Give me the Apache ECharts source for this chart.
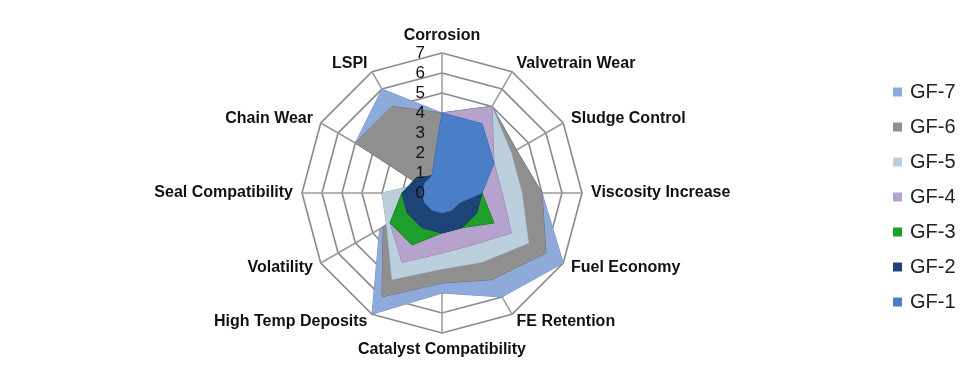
<!DOCTYPE html>
<html>
<head>
<meta charset="utf-8">
<script src="https://cdn.jsdelivr.net/npm/echarts@6/dist/echarts.min.js"></script>
<style>html,body{margin:0;padding:0;background:#fff}#c{width:975px;height:385px}</style>
</head>
<body>
<div id="c"></div>
<script>
// Categories, clockwise from the top
const categories = ['Corrosion','Valvetrain Wear','Sludge Control','Viscosity Increase','Fuel Economy','FE Retention','Catalyst Compatibility','High Temp Deposits','Volatility','Seal Compatibility','Chain Wear','LSPI'];
const seriesNames = ['GF-7','GF-6','GF-5','GF-4','GF-3','GF-2','GF-1'];
const gf7 = [4, 5, 4.3, 5, 7, 6, 5, 7, 3.6, 0.5, 5, 6];
const gf6 = [4, 5, 4.3, 5, 6, 5, 4.5, 6, 3.4, 0.5, 5, 5];
const gf5 = [4, 5, 4, 4, 5, 4, 3.8, 5, 3.2, 3, 1, 1];
const gf4 = [4, 5, 3, 3, 4, 3, 3, 4, 3, 2, 1, 1];
const gf3 = [1, 1, 1, 2, 3, 2, 2, 3, 3, 2, 1, 1];
const gf2 = [1, 1, 1, 2, 2, 2, 2, 2, 2, 2, 1.5, 1];
const gf1 = [4, 4, 3, 2, 1, 1, 1, 1, 1, 1, 1, 1];
const tickLabels = ['0','1','2','3','4','5','6','7'];
const maxVal = 7;

const colors = ['#8EAADB','#8F8F8F','#BCCFDD','#B5A3CD','#1E9E2A','#1D4477','#4A7FC8'];
const edges  = ['#6F8CC0','#6E6E6E','#95AABA','#8E7BA8','#13701C','#122C50','#2F5E9E'];
const values = [gf7, gf6, gf5, gf4, gf3, gf2, gf1];

// ECharts lays radar indicators counter-clockwise; reorder so they run clockwise
const order = [0];
for (let i = categories.length - 1; i >= 1; i--) order.push(i);
const reorder = arr => order.map(i => arr[i]);

const FONT = 'Liberation Sans, Arial, sans-serif';
const chart = echarts.init(document.getElementById('c'), null, {renderer: 'canvas'});
chart.setOption({
  backgroundColor: '#fff',
  animation: false,
  legend: {
    orient: 'vertical',
    left: 888,
    top: 77,
    itemWidth: 9,
    itemHeight: 9,
    itemGap: 15,
    icon: 'rect',
    data: seriesNames,
    textStyle: {fontFamily: FONT, fontSize: 20, color: '#222', padding: [0,0,0,3]}
  },
  radar: {
    center: [442, 193],
    radius: 140,
    shape: 'polygon',
    splitNumber: 7,
    startAngle: 90,
    indicator: reorder(categories).map(n => ({name: n, min: 0, max: maxVal})),
    axisName: {color: '#111', fontFamily: FONT, fontSize: 16, fontWeight: 'bold'},
    nameGap: 9,
    splitLine: {lineStyle: {color: '#8a8a8a', width: 1.6}},
    axisLine: {lineStyle: {color: '#9a9a9a', width: 1.5}},
    splitArea: {show: false}
  },
  grid: {left: 442, top: 53, width: 1, height: 140, containLabel: false, z: 30},
  xAxis: {type: 'value', show: false},
  yAxis: {
    type: 'value', min: 0, max: maxVal, interval: 1, z: 30,
    axisLine: {show: false}, axisTick: {show: false}, splitLine: {show: false},
    axisLabel: {margin: 17, fontSize: 17, color: '#111', fontFamily: FONT,
      formatter: v => tickLabels[v]}
  },
  series: values.map((v, k) => ({
    type: 'radar',
    name: seriesNames[k],
    z: 2 + k,
    symbol: 'none',
    itemStyle: {color: colors[k]},
    lineStyle: {color: edges[k], width: 1},
    areaStyle: {color: colors[k], opacity: 1},
    data: [{value: reorder(v), name: seriesNames[k]}]
  }))
});
</script>
</body>
</html>
